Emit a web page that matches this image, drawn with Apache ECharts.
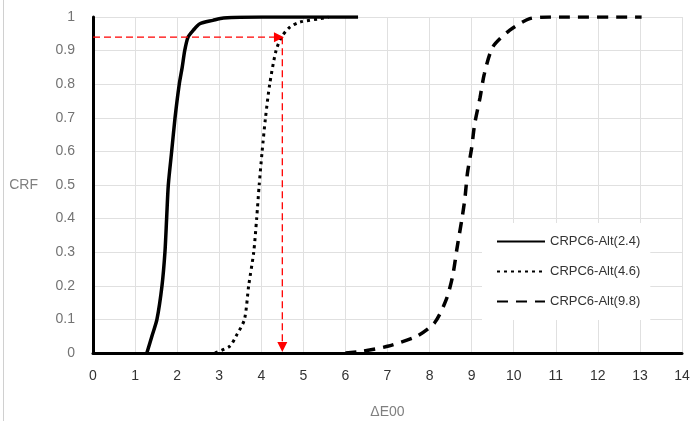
<!DOCTYPE html>
<html>
<head>
<meta charset="utf-8">
<script src="https://cdn.jsdelivr.net/npm/echarts@6/dist/echarts.min.js"></script>
<style>
  html, body { margin: 0; padding: 0; background: #fff; }
  #chart { width: 694px; height: 421px; }
</style>
</head>
<body>
<div id="chart"></div>
<script>
// 曲线数据
const seriesNames = ['CRPC6-Alt(2.4)', 'CRPC6-Alt(4.6)', 'CRPC6-Alt(9.8)'];

const xs24 = [1.28, 1.4, 1.52, 1.64, 1.71, 1.75, 1.79, 1.87, 1.95, 2.05, 2.12, 2.18, 2.26, 2.38, 2.54, 2.85, 3.1, 4.0, 6.3];
const ys24 = [0, 0.05, 0.1, 0.2, 0.3, 0.4, 0.5, 0.6, 0.7, 0.8, 0.85, 0.9, 0.94, 0.96, 0.98, 0.99, 0.997, 1, 1];

const xs46 = [2.9, 3.25, 3.4, 3.6, 3.7, 3.82, 3.89, 3.95, 4.02, 4.1, 4.2, 4.35, 4.48, 4.68, 4.92, 5.4, 5.6];
const ys46 = [0, 0.02, 0.05, 0.1, 0.2, 0.3, 0.4, 0.5, 0.6, 0.7, 0.8, 0.9, 0.94, 0.97, 0.985, 0.995, 1];

const xs98 = [6.0, 6.4, 7.0, 7.7, 8.12, 8.4, 8.55, 8.65, 8.77, 8.84, 8.9, 9.0, 9.07, 9.2, 9.3, 9.5, 9.9, 10.38, 10.85, 13.04];
const ys98 = [0, 0.005, 0.02, 0.05, 0.09, 0.16, 0.23, 0.31, 0.40, 0.46, 0.535, 0.61, 0.68, 0.76, 0.83, 0.91, 0.96, 0.995, 1, 1];

// 红色辅助线
const guideY = 0.94;
const guideX = 4.5;
const guideArrowX = 4.42;

function pairs(xs, ys) {
    return xs.map((x, i) => [x, ys[i]]);
}

const chart = echarts.init(document.getElementById('chart'));
const font = 'Liberation Sans';
const red = '#ff0000';

chart.setOption({
    animation: false,
    grid: { left: 93, right: 12, top: 17, bottom: 68, outerBoundsMode: 'none' },
    graphic: [{
        type: 'line',
        shape: { x1: 3.5, y1: 0, x2: 3.5, y2: 421 },
        style: { stroke: '#d0d0d0', lineWidth: 1 }
    }],
    legend: {
        orient: 'vertical',
        left: 482,
        top: 223,
        padding: [12, 10, 12, 14],
        backgroundColor: '#fff',
        itemWidth: 48,
        itemHeight: 14,
        itemGap: 17,
        itemStyle: { opacity: 0 },
        textStyle: { fontFamily: font, fontSize: 13, color: '#333' },
        data: seriesNames
    },
    xAxis: {
        type: 'value',
        min: 0, max: 14, interval: 1,
        name: 'ΔE00',
        nameLocation: 'middle',
        nameGap: 52,
        nameTextStyle: { fontFamily: font, fontSize: 14, color: '#7f7f7f' },
        axisLine: { lineStyle: { color: '#000', width: 3 } },
        axisTick: { show: false },
        axisLabel: { fontFamily: font, fontSize: 14, color: '#333', margin: 16 },
        splitLine: { show: true, lineStyle: { color: '#e0e0e0', width: 1 } }
    },
    yAxis: {
        type: 'value',
        min: 0, max: 1, interval: 0.1,
        name: 'CRF',
        nameLocation: 'middle',
        nameRotate: 0,
        nameGap: 55,
        nameTextStyle: { fontFamily: font, fontSize: 14, color: '#7f7f7f', padding: [0, 0, 24, 0] },
        axisLine: { show: true, lineStyle: { color: '#000', width: 3 } },
        axisTick: { show: false },
        axisLabel: { fontFamily: font, fontSize: 14, color: '#737373', margin: 18 },
        splitLine: { show: true, lineStyle: { color: '#e0e0e0', width: 1 } }
    },
    series: [
        {
            name: seriesNames[0],
            type: 'line',
            data: pairs(xs24, ys24),
            symbol: 'none',
            smooth: 0.25,
            lineStyle: { color: '#000', width: 3.5, type: 'solid' },
            itemStyle: { color: '#000' },
            z: 3
        },
        {
            name: seriesNames[1],
            type: 'line',
            data: pairs(xs46, ys46),
            symbol: 'none',
            smooth: 0.25,
            lineStyle: { color: '#000', width: 3, type: [3, 4] },
            itemStyle: { color: '#000' },
            z: 3
        },
        {
            name: seriesNames[2],
            type: 'line',
            data: pairs(xs98, ys98),
            symbol: 'none',
            smooth: 0.25,
            lineStyle: { color: '#000', width: 3.5, type: [11, 8] },
            itemStyle: { color: '#000' },
            z: 3
        },
        {
            name: 'guide',
            type: 'line',
            data: [[0, guideY], [guideArrowX, guideY]],
            symbol: 'none',
            silent: true,
            lineStyle: { color: red, width: 1.3, type: [7, 4] },
            z: 4
        },
        {
            name: 'guide2',
            type: 'line',
            data: [[guideX, guideY], [guideX, 0.012]],
            symbol: 'none',
            silent: true,
            lineStyle: { color: red, width: 1.3, type: [7, 4] },
            z: 4,
            markPoint: {
                silent: true,
                label: { show: false },
                itemStyle: { color: red },
                data: [
                    { coord: [guideArrowX, guideY], symbol: 'triangle', symbolSize: [10, 10], symbolRotate: -90 },
                    { coord: [guideX, 0.018], symbol: 'triangle', symbolSize: [10, 10], symbolRotate: 180 }
                ]
            }
        }
    ]
});
</script>
</body>
</html>
